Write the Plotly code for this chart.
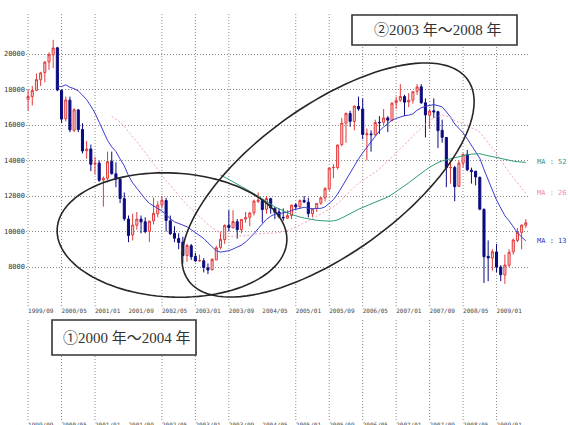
import numpy as np
import pandas as pd
import plotly.graph_objects as go

# ---------------- data (monthly, 1999/04 .. 2009/08) ----------------
start_month = "1999-04"
opens = [15900, 16700, 16100, 17500, 17850, 17450, 17600, 17950, 18550,
         18950, 19550, 19950, 20350, 17950, 16350, 17400, 15700, 16850, 15750, 14550, 14650,
         13800, 13850, 12900, 13000, 13950, 13250, 12950, 11850, 10700, 9800, 10350, 10700,
         10550, 10000, 10600, 11000, 11500, 11750, 10600, 9900, 9600, 9400, 8650, 9200,
         8600, 8350, 8350, 7950, 7850, 8400, 9100, 9550, 10350, 10200, 10550, 10100,
         10700, 10800, 11050, 11700, 11750, 11250, 11850, 11300, 11100, 10800, 10750, 10900,
         11500, 11400, 11750, 11650, 11000, 11300, 11600, 11900, 12400, 13600, 13600, 14900,
         16100, 16650, 16200, 17050, 16900, 15450, 15500, 15450, 16150, 16150, 16400, 16250,
         17250, 17400, 17600, 17300, 17400, 17900, 18150, 17250, 16550, 16800, 16750, 15700,
         15300, 13600, 13600, 12550, 13850, 14350, 13450, 13400, 13050, 11250, 8600, 8500,
         8850, 8000, 7550, 8100, 8850, 9500, 9950, 10350]
highs = [17000, 16900, 17600, 18600, 18000, 18000, 18200, 18900, 19000,
         19600, 20100, 20800, 20400, 18000, 17600, 17600, 16950, 16900, 16100, 15100, 14900,
         14200, 14000, 13100, 14500, 14500, 13900, 13000, 12200, 10900, 11000, 11100, 10900,
         10800, 10600, 11900, 11700, 12000, 11900, 10900, 10300, 9900, 9700, 9300, 9300,
         8800, 8700, 8500, 8200, 8500, 9200, 10000, 10400, 11200, 11200, 10700, 10700,
         11100, 11100, 11800, 12200, 11800, 12000, 11900, 11400, 11300, 11300, 11200, 11500,
         11600, 11800, 12000, 11900, 11300, 11600, 11900, 12500, 13600, 13800, 14900, 16400,
         16700, 16800, 17100, 17600, 17500, 15800, 15700, 16300, 16500, 16900, 16500, 17300,
         17600, 18300, 17700, 17800, 17900, 18300, 18300, 17500, 16900, 17500, 16800, 16300,
         15300, 14000, 13700, 14000, 14400, 14600, 13600, 13400, 13100, 11300, 9500, 9000,
         9300, 8100, 8700, 9000, 9600, 10200, 10400, 10700]
lows = [15800, 15900, 16000, 17300, 17000, 16800, 17100, 17900, 18200,
        18400, 19100, 19200, 17900, 16100, 16200, 15600, 15600, 15600, 14400, 14100, 13400,
        13200, 12800, 11400, 12900, 13200, 12500, 11600, 10600, 9400, 9500, 10100, 9900,
        9900, 9400, 10400, 10800, 11300, 10000, 9800, 9400, 9000, 8200, 8300, 8400,
        8300, 8300, 7700, 7600, 7800, 8400, 9000, 9300, 10000, 10200, 9600, 9900,
        10500, 10300, 10900, 11600, 10500, 11000, 11000, 10700, 10800, 10600, 10700, 10700,
        11200, 11300, 11600, 10800, 10800, 11100, 11500, 11700, 12300, 13000, 13500, 14800,
        15000, 15900, 15700, 16800, 15200, 14000, 14500, 15400, 15500, 16000, 15600, 16200,
        16900, 17300, 16500, 17000, 17200, 17700, 17200, 15300, 15800, 16400, 14700, 15000,
        12500, 12700, 11700, 12500, 13600, 13400, 12700, 12600, 11200, 7100, 7200, 7800,
        7700, 7200, 7050, 8000, 8700, 9400, 9000, 10200]
closes = [16702, 16112, 17530, 17862, 17437, 17606, 17942, 18558, 18934,
          19540, 19960, 20337, 17974, 16332, 17411, 15727, 16861, 15747, 14539, 14649, 13786,
          13844, 12884, 12999, 13934, 13262, 12969, 11861, 10714, 9775, 10367, 10697, 10543,
          9998, 10588, 11025, 11493, 11764, 10622, 9877, 9619, 9383, 8640, 9216, 8579,
          8340, 8363, 7973, 7831, 8425, 9083, 9563, 10344, 10219, 10560, 10101, 10677,
          10784, 11042, 11715, 11762, 11236, 11859, 11326, 11082, 10824, 10771, 10899, 11489,
          11388, 11741, 11669, 11009, 11277, 11584, 11900, 12414, 13574, 13607, 14872, 16111,
          16650, 16205, 17060, 16906, 15467, 15505, 15457, 16141, 16128, 16399, 16274, 17226,
          17383, 17604, 17288, 17400, 17876, 18138, 17249, 16569, 16786, 16738, 15681, 15308,
          13592, 13604, 12526, 13850, 14339, 13481, 13377, 13073, 11260, 8577, 8512, 8860,
          7994, 7568, 8110, 8828, 9523, 9958, 10357, 10493]

tick_labels = ["1999/09", "2000/05", "2001/01", "2001/09", "2002/05", "2003/01",
               "2003/09", "2004/05", "2005/01", "2005/09", "2006/05", "2007/01",
               "2007/09", "2008/05", "2009/01"]
no_grid_labels = ["2001/09", "2004/05"]
y_ticks = [8000, 10000, 12000, 14000, 16000, 18000, 20000]
ma_periods = [13, 26, 52]
ma_colors = {13: "#3b3bd6", 26: "#f2a0b8", 52: "#2f9c78"}
ma_label_colors = {13: "#2a3cc8", 26: "#ee8cb0", 52: "#2a9a88"}
box_texts = ["①2000 年～2004 年", "②2003 年～2008 年"]

# ---------------- derived ----------------
months = pd.period_range(start_month, periods=len(closes), freq="M")
xidx = np.arange(len(months))
month_str = [m.strftime("%Y/%m") for m in months]
tick_pos = [month_str.index(t) for t in tick_labels]
close_s = pd.Series(closes, dtype=float)
mas = {n: close_s.rolling(n).mean() for n in ma_periods}

W, H = 568, 425
ML, MR, MT, MB = 26, 38, 13, 5
PW, PH = W - ML - MR, H - MT - MB


def px(xp):
    return (xp - ML) / PW


def py(yp):
    return (H - MB - yp) / PH


main_bottom = py(306)
lower_top = py(320)

fig = go.Figure()
fig.add_trace(go.Candlestick(
    x=xidx, open=opens, high=highs, low=lows, close=closes,
    increasing=dict(line=dict(color="#e23a3a", width=1), fillcolor="#fbd3d3"),
    decreasing=dict(line=dict(color="#0b0b80", width=1), fillcolor="#0b0b80"),
    whiskerwidth=0, hoverinfo="skip", showlegend=False))

for n in ma_periods:
    fig.add_trace(go.Scatter(
        x=xidx, y=mas[n], mode="lines", showlegend=False, hoverinfo="skip",
        line=dict(color=ma_colors[n], width=1, dash="2px,2px" if n == 26 else "solid")))

# lower (empty) panel placeholder
fig.add_trace(go.Scatter(x=[tick_pos[0]], y=[0.5], xaxis="x2", yaxis="y2",
                         mode="markers", marker=dict(opacity=0), showlegend=False,
                         hoverinfo="skip"))

shapes = []
grid_line = dict(color="#8a8a8a", width=1, dash="1px,2px")
for pos, lab in zip(tick_pos, tick_labels):
    if lab in no_grid_labels:
        continue
    shapes.append(dict(type="line", xref="x", yref="paper", x0=pos, x1=pos,
                       y0=main_bottom, y1=1, line=grid_line, layer="below"))
    shapes.append(dict(type="line", xref="x2", yref="paper", x0=pos, x1=pos,
                       y0=0, y1=lower_top, line=grid_line, layer="below"))


def ellipse_path(cx, cy, a, b, deg):
    th = np.deg2rad(deg)
    t = np.linspace(0, 2 * np.pi, 121)
    xs = cx + a * np.cos(t) * np.cos(th) - b * np.sin(t) * np.sin(th)
    ys = cy - (a * np.cos(t) * np.sin(th) + b * np.sin(t) * np.cos(th))
    pts = [f"{px(x):.5f},{py(y):.5f}" for x, y in zip(xs, ys)]
    return "M " + " L ".join(pts) + " Z"


ell_line = dict(color="#262626", width=1.6)
shapes.append(dict(type="path", xref="paper", yref="paper",
                   path=ellipse_path(172, 235, 115, 62, -3), line=ell_line))
shapes.append(dict(type="path", xref="paper", yref="paper",
                   path=ellipse_path(328, 180, 172, 74, 35.75), line=ell_line))

boxes = [(52, 320, 196, 355), (352, 15, 517, 45)]
annotations = []
for (x0, y0, x1, y1), txt in zip(boxes, box_texts):
    shapes.append(dict(type="rect", xref="paper", yref="paper",
                       x0=px(x0), x1=px(x1), y0=py(y1), y1=py(y0),
                       fillcolor="white", line=dict(color="#333333", width=1.6),
                       layer="above"))
    annotations.append(dict(xref="paper", yref="paper", x=px((x0 + x1) / 2 + 3),
                            y=py((y0 + y1) / 2), text=txt, showarrow=False,
                            xanchor="center", yanchor="middle",
                            font=dict(family="Liberation Serif, Noto Sans CJK JP",
                                      size=15, color="#333333")))

for n in ma_periods:
    annotations.append(dict(xref="paper", yref="y", x=px(535), y=float(mas[n].iloc[-1]),
                            text=f"MA : {n}", showarrow=False, xanchor="left",
                            yanchor="middle",
                            font=dict(family="DejaVu Sans Mono", size=7,
                                      color=ma_label_colors[n])))

tickfont_x = dict(family="DejaVu Sans Mono", size=6, color="#444444")
fig.update_layout(
    width=W, height=H, margin=dict(l=ML, r=MR, t=MT, b=MB, autoexpand=False),
    paper_bgcolor="white", plot_bgcolor="white", showlegend=False,
    xaxis=dict(range=[4.5, 125], domain=[0, 1], anchor="y",
               tickvals=tick_pos, ticktext=tick_labels, ticklabelposition="outside right",
               tickangle=0, tickfont=tickfont_x, showgrid=False, zeroline=False,
               showline=False, ticks="", rangeslider=dict(visible=False), automargin=False),
    yaxis=dict(range=[5803, 22310], domain=[main_bottom, 1], tickvals=y_ticks,
               ticktext=[str(v) for v in y_ticks],
               tickfont=dict(family="DejaVu Sans Mono", size=7, color="#333333"),
               showgrid=True, gridcolor="#8a8a8a", gridwidth=1, griddash="1px,2px",
               zeroline=False, showline=False, ticks="", automargin=False),
    xaxis2=dict(range=[4.5, 125], domain=[0, 1], anchor="y2", matches="x",
                tickvals=tick_pos, ticktext=tick_labels, ticklabelposition="outside right",
                tickangle=0, tickfont=tickfont_x, showgrid=False, zeroline=False,
                showline=False, ticks="", automargin=False),
    yaxis2=dict(range=[0, 1], domain=[0, lower_top], showticklabels=False,
                showgrid=False, zeroline=False, showline=False, ticks="",
                automargin=False),
    shapes=shapes, annotations=annotations,
)

fig.write_html("out.html")
